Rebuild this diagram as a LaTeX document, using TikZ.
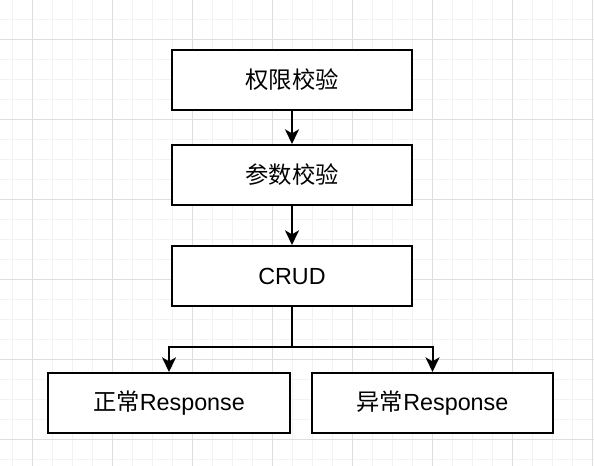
\documentclass[tikz,border=0pt]{standalone}
\usepackage{fontspec}
\setmainfont{Liberation Sans}
\newfontfamily\cjk{Noto Sans CJK SC}
\usetikzlibrary{arrows.meta}

\begin{document}
\begin{tikzpicture}[x=0.75pt,y=-0.75pt,
  box/.style={draw, line width=1.5pt, fill=white, minimum width=180pt,
    minimum height=45pt, inner sep=0pt, font=\fontsize{17.5}{20}\selectfont},
  flow/.style={line width=1.5pt, -{Stealth[length=11pt,width=10.5pt,inset=3pt]}},
  minor/.style={draw=black!5, line width=0.75pt},
  major/.style={draw=black!13, line width=0.75pt}]
\useasboundingbox[fill=white] (0,0) rectangle (594,466);

% grid
\foreach \x in {12,32,...,592} \path[minor] (\x,0) -- (\x,466);
\foreach \y in {0,20,...,460} \path[minor] (0,\y) -- (594,\y);
\foreach \x in {32,112,...,592} \path[major] (\x,0) -- (\x,466);
\foreach \y in {40,120,...,460} \path[major] (0,\y) -- (594,\y);

\node[box] (auth) at (292,80) {\cjk 权限校验};
\node[box] (param) at (292,175) {\cjk 参数校验};
\node[box] (crud) at (292,276) {CRUD};
\node[box, minimum width=181pt] (ok) at (169,403) {{\cjk 正常}Response};
\node[box, minimum width=181pt] (err) at (432.5,403) {{\cjk 异常}Response};
\coordinate (split) at (292,347);

\path[draw,flow] (auth) -- (param);
\path[draw,flow] (param) -- (crud);
\path[draw,line width=1.5pt] (crud) -- (split);
\path[draw,flow] (split) -| (ok);
\path[draw,flow] (split) -| (err);
\end{tikzpicture}
\end{document}
